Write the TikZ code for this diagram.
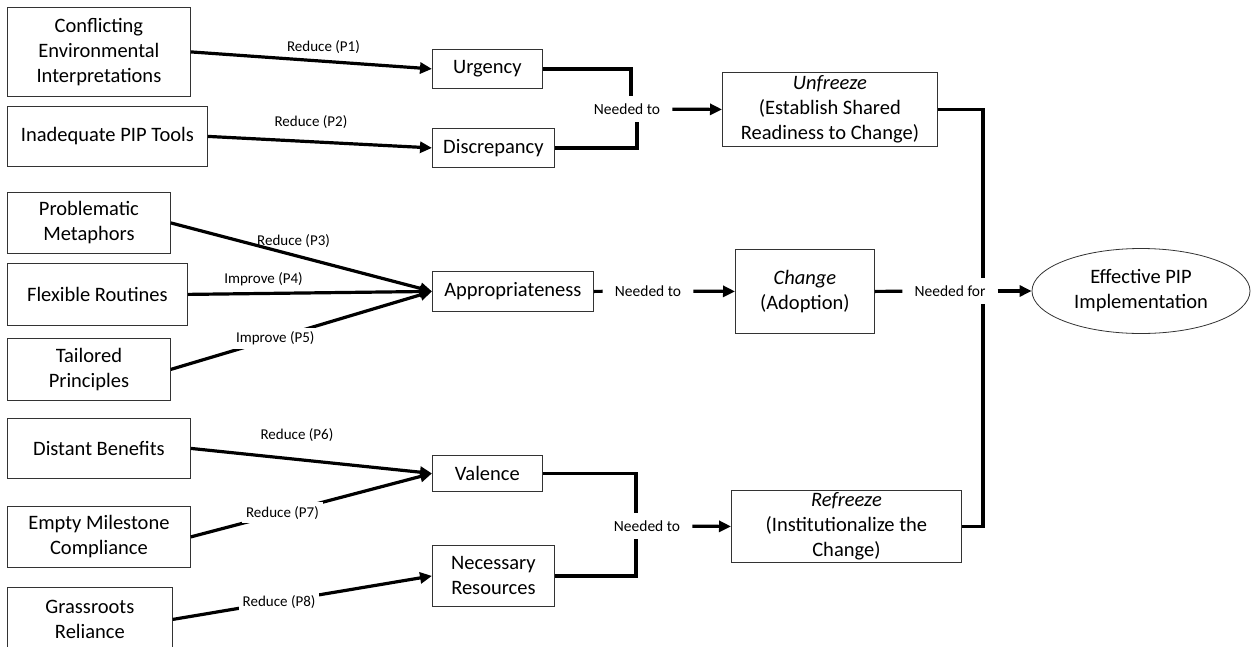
\documentclass[tikz,border=0pt]{standalone}
\usepackage{fontspec}
\setmainfont{Carlito}
\usepackage{tikz}
\usetikzlibrary{calc,positioning,shapes,arrows.meta}

\tikzset{
	box/.style={draw=black!80,line width=0.8pt,align=center,anchor=north west,inner sep=0pt,font=\fontsize{20.5}{25}\selectfont},
	lab/.style={font=\fontsize{15}{18}\selectfont,inner sep=2pt},
	need/.style={font=\fontsize{15.5}{18}\selectfont,fill=white,inner xsep=12pt,inner ysep=8pt},
	link/.style={line width=3.2pt},
	arr/.style={line width=3.2pt,-{Triangle[length=12pt,width=11pt]}},
}

\begin{document}
\begin{tikzpicture}[x=1pt,y=-1pt]
		\useasboundingbox (0,0) rectangle (1252,646);
		\begin{scope}
			% left column
			\node(conf) [box,minimum width=183,minimum height=89] at (7,7) {Conflicting\\Environmental\\Interpretations};
			\node(inad) [box,minimum width=200,minimum height=60] at (7,106) {Inadequate PIP Tools};
			\node(prob) [box,minimum width=163,minimum height=61] at (7,192) {Problematic\\Metaphors};
			\node(flex) [box,minimum width=180,minimum height=62] at (7,263) {Flexible Routines};
			\node(tail) [box,minimum width=163,minimum height=62] at (7,338) {Tailored\\Principles};
			\node(dist) [box,minimum width=183,minimum height=60] at (7,418) {Distant Benefits};
			\node(empt) [box,minimum width=183,minimum height=61] at (7,506) {Empty Milestone\\Compliance};
			\node(gras) [box,minimum width=165,minimum height=64] at (7,587) {Grassroots\\Reliance};
			% middle column
			\node(urg) [box,minimum width=110,minimum height=39] at (432,49) {Urgency};
			\node(disc) [box,minimum width=122,minimum height=39] at (432,128) {Discrepancy};
			\node(appr) [box,minimum width=161,minimum height=40] at (432,271) {Appropriateness};
			\node(val) [box,minimum width=110,minimum height=36] at (432,455) {Valence};
			\node(nec) [box,minimum width=122,minimum height=61] at (432,545) {Necessary\\Resources};
			% stages
			\node(unf) [box,minimum width=215,minimum height=74] at (722,72) {\textit{Unfreeze}\\(Establish Shared\\Readiness to Change)};
			\node(chg) [box,minimum width=139,minimum height=84] at (735,249) {\textit{Change}\\(Adoption)};
			\node(ref) [box,minimum width=230,minimum height=72] at (731,490) {\textit{Refreeze}\\(Institutionalize the\\Change)};
			\node(eff) [shape=ellipse,draw=black!80,line width=0.8pt,align=center,inner sep=0pt,minimum width=218,minimum height=85,font=\fontsize{20.5}{25}\selectfont] at (1141,291) {Effective PIP\\Implementation};
			\path[arr]
				(conf.east) edge node [lab,above=4pt,pos=0.55] {Reduce (P1)} (urg.west)
				(inad.east) edge node [lab,above=10pt,pos=0.46] {Reduce (P2)} (disc.west)
				(prob.east) edge node [lab,above=4pt,pos=0.47] {Reduce (P3)} (appr.west)
				(flex.east) edge node [lab,above=4pt,pos=0.31] {Improve (P4)} (appr.west)
				(tail.east) edge node [lab,fill=white,inner sep=4pt,pos=0.4] {Improve (P5)} (appr.west)
				(dist.east) edge node [lab,above=14pt,pos=0.44] {Reduce (P6)} (val.west)
				(empt.east) edge node [lab,fill=white,inner sep=4pt,pos=0.38] {Reduce (P7)} (val.west)
				(gras.east) edge node [lab,fill=white,inner sep=4pt,pos=0.41] {Reduce (P8)} (nec.west);
			% needed to
			\coordinate (j1a) at (631,109);
			\coordinate (j1b) at (637,109);
			\coordinate (j3) at (636,526);
			\draw[link] (urg.east) -| (j1a);
			\draw[link] (disc.east) -| (j1b);
			\draw[link] (val.east) -| (j3) |- (nec.east);
			\node(nt1) [need] at (627,109) {Needed to};
			\node(nt2) [need] at (648,291) {Needed to};
			\node(nt3) [need] at (647,526) {Needed to};
			\draw[arr] (nt1) -- (unf.west);
			\draw[link] (appr.east) -- (nt2);
			\draw[arr] (nt2) -- (chg.west);
			\draw[arr] (nt3) -- (ref.west);
			% needed for
			\coordinate (jn) at (983,291);
			\draw[link] (unf.east) -| (jn) |- (ref.east);
			\node(nf) [need] at (950,291) {Needed for};
			\draw[link] (chg.east) -- (nf);
			\draw[arr] (nf) -- (eff);
		\end{scope}
	\end{tikzpicture}
\end{document}
